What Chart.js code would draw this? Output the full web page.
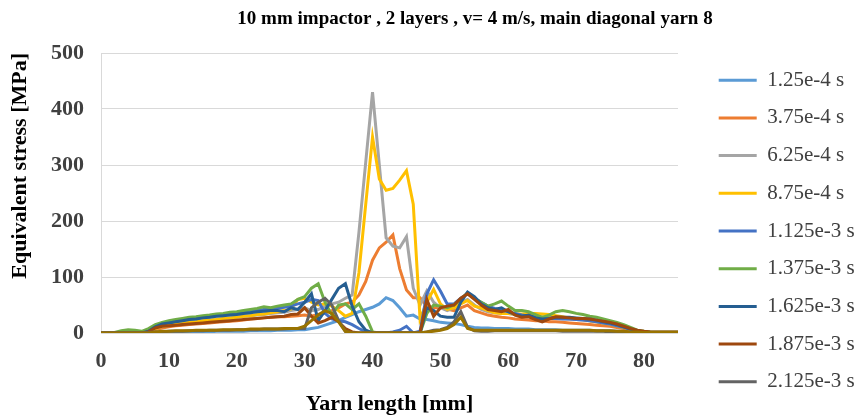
<!DOCTYPE html>
<html>
<head>
<meta charset="utf-8">
<script src="https://cdn.jsdelivr.net/npm/chart.js@4.4.1/dist/chart.umd.min.js"></script>
<style>
  body { margin: 0; background: #fff; }
  #wrap { width: 862px; height: 418px; position: relative; }
</style>
</head>
<body>
<div id="wrap"><canvas id="chart-stress"></canvas></div>
<script>
// yarn positions along the diagonal [mm]
const yarnLength = [
    0, 1, 2, 3, 4, 5, 6, 7, 8, 9, 10, 11, 12, 13, 14, 15, 16, 17, 18, 19,
    20, 21, 22, 23, 24, 25, 26, 27, 28, 29, 30, 31, 32, 33, 34, 35, 36, 37, 38, 39,
    40, 41, 42, 43, 44, 45, 46, 47, 48, 49, 50, 51, 52, 53, 54, 55, 56, 57, 58, 59,
    60, 61, 62, 63, 64, 65, 66, 67, 68, 69, 70, 71, 72, 73, 74, 75, 76, 77, 78, 79,
    80, 81, 82, 83, 84, 85
];

const timeLabels = ['1.25e-4 s', '3.75e-4 s', '6.25e-4 s', '8.75e-4 s', '1.125e-3 s',
    '1.375e-3 s', '1.625e-3 s', '1.875e-3 s', '2.125e-3 s', '2.375e-3 s'];

const lineColors = ['#5B9BD5', '#ED7D31', '#A5A5A5', '#FFC000', '#4472C4',
    '#70AD47', '#255E91', '#9E480E', '#636363', '#997300'];

// equivalent stress [MPa] per time step
const s125e4 = [
    0, 0, 0, 0, 0, 0, 0, 0, 0, 1, 1, 1, 1, 2, 2, 2, 2, 3, 3, 3,
    3, 3, 4, 4, 4, 4, 5, 5, 5, 6, 6, 8, 10, 14, 18, 22, 28, 33, 38, 42,
    46, 52, 63, 58, 45, 30, 32, 25, 24, 22, 19, 18, 17, 15, 12, 10, 9, 9, 8, 8,
    8, 7, 7, 7, 6, 6, 6, 6, 5, 5, 5, 5, 5, 4, 4, 4, 3, 3, 2, 2,
    1, 1, 1, 1, 1, 1
];
const s375e4 = [
    0, 0, 0, 0, 0, 0, 0, 2, 6, 9, 11, 13, 14, 15, 16, 17, 18, 19, 20, 21,
    22, 23, 25, 26, 27, 28, 29, 29, 30, 31, 32, 30, 33, 36, 40, 45, 52, 55, 68, 92,
    130, 152, 162, 175, 115, 77, 63, 63, 48, 45, 45, 43, 40, 45, 50, 40, 36, 32, 30, 28,
    27, 25, 24, 23, 22, 22, 20, 20, 19, 18, 17, 16, 15, 14, 13, 12, 10, 8, 5, 3,
    2, 1, 1, 1, 1, 1
];
const s625e4 = [
    0, 0, 0, 0, 0, 0, 0, 2, 8, 12, 14, 16, 18, 19, 20, 22, 23, 24, 26, 27,
    28, 30, 31, 32, 33, 35, 36, 37, 40, 42, 45, 40, 42, 48, 52, 55, 62, 68, 180, 305,
    430, 300, 170, 155, 152, 172, 80, 50, 75, 55, 45, 40, 45, 55, 60, 50, 42, 38, 36, 35,
    35, 33, 33, 32, 30, 29, 28, 27, 26, 25, 24, 23, 22, 20, 18, 16, 14, 11, 7, 4,
    2, 1, 1, 1, 1, 1
];
const s875e4 = [
    0, 0, 0, 0, 0, 0, 0, 2, 8, 12, 14, 16, 17, 19, 20, 22, 23, 24, 26, 27,
    28, 30, 31, 33, 34, 36, 38, 40, 43, 60, 62, 55, 50, 52, 48, 40, 30, 35, 108, 230,
    350, 275, 255, 258, 273, 290, 230, 25, 55, 78, 52, 42, 45, 52, 58, 48, 45, 40, 36, 35,
    35, 34, 34, 35, 35, 34, 33, 31, 29, 27, 26, 24, 22, 20, 18, 16, 13, 10, 6, 3,
    2, 1, 1, 1, 1, 1
];
const s1125e3 = [
    0, 0, 0, 0, 0, 0, 0, 3, 12, 17, 19, 21, 23, 25, 26, 28, 29, 31, 32, 34,
    35, 37, 38, 40, 42, 43, 44, 46, 48, 52, 55, 60, 58, 35, 25, 22, 20, 15, 8, 2,
    0, 0, 0, 2, 5, 12, 0, 3, 70, 95, 75, 52, 52, 62, 70, 62, 55, 48, 44, 41,
    38, 35, 32, 30, 28, 27, 26, 26, 25, 25, 24, 23, 22, 20, 18, 16, 13, 10, 6, 3,
    2, 1, 1, 1, 1, 1
];
const s1375e3 = [
    0, 0, 1, 4, 6, 5, 3, 8, 15, 19, 22, 24, 26, 28, 29, 31, 32, 34, 35, 37,
    38, 40, 42, 44, 47, 45, 48, 50, 52, 60, 65, 80, 88, 55, 32, 50, 52, 42, 52, 30,
    2, 0, 0, 0, 0, 0, 0, 0, 35, 50, 48, 45, 50, 60, 72, 62, 55, 48, 52, 57,
    48, 40, 40, 38, 33, 28, 32, 38, 40, 38, 35, 33, 30, 28, 25, 22, 19, 15, 10, 5,
    3, 2, 2, 2, 2, 2
];
const s1625e3 = [
    0, 0, 0, 0, 0, 0, 0, 3, 11, 16, 18, 20, 22, 24, 25, 27, 28, 30, 31, 32,
    33, 35, 36, 38, 39, 40, 40, 38, 45, 42, 55, 70, 22, 40, 60, 80, 88, 48, 20, 5,
    0, 0, 0, 0, 0, 0, 0, 0, 45, 40, 30, 28, 28, 55, 73, 65, 52, 45, 42, 45,
    38, 33, 30, 32, 27, 25, 26, 28, 28, 28, 27, 26, 25, 23, 20, 18, 15, 11, 7, 4,
    2, 1, 1, 1, 1, 1
];
const s1875e3 = [
    0, 0, 0, 0, 0, 0, 0, 2, 9, 12, 13, 14, 15, 16, 17, 18, 19, 20, 21, 22,
    23, 24, 25, 26, 27, 28, 29, 30, 33, 34, 45, 30, 18, 22, 28, 20, 8, 2, 0, 0,
    0, 0, 0, 0, 0, 0, 0, 0, 60, 30, 45, 48, 50, 62, 70, 60, 50, 42, 40, 38,
    42, 32, 28, 29, 24, 20, 25, 29, 28, 27, 26, 26, 25, 23, 21, 19, 16, 12, 8, 5,
    3, 2, 2, 2, 2, 2
];
const s2125e3 = [
    0, 0, 0, 0, 0, 0, 0, 1, 2, 2, 3, 3, 3, 4, 4, 4, 5, 5, 5, 5,
    6, 6, 6, 6, 7, 7, 7, 7, 8, 8, 8, 45, 55, 62, 50, 22, 3, 0, 0, 0,
    0, 0, 0, 0, 0, 0, 0, 0, 2, 5, 6, 10, 20, 38, 10, 4, 3, 3, 4, 4,
    4, 4, 4, 4, 4, 4, 4, 4, 3, 3, 3, 3, 3, 3, 3, 2, 2, 2, 1, 1,
    1, 1, 1, 1, 1, 1
];
const s2375e3 = [
    0, 0, 0, 0, 0, 0, 0, 0, 2, 3, 3, 4, 4, 4, 5, 5, 5, 5, 6, 6,
    6, 6, 7, 7, 7, 7, 7, 8, 8, 8, 12, 22, 32, 40, 35, 20, 3, 0, 0, 0,
    0, 0, 0, 0, 0, 0, 0, 0, 2, 3, 5, 8, 15, 28, 8, 5, 5, 5, 5, 5,
    5, 5, 5, 5, 5, 5, 5, 5, 5, 5, 5, 5, 5, 4, 4, 4, 3, 3, 2, 2,
    1, 1, 1, 1, 1, 1
];

const stressSeries = [s125e4, s375e4, s625e4, s875e4, s1125e3, s1375e3, s1625e3, s1875e3, s2125e3, s2375e3];

const yTicks = [0, 100, 200, 300, 400, 500];
const xTicks = [0, 10, 20, 30, 40, 50, 60, 70, 80];

const chartTitle = '10 mm impactor , 2 layers , v= 4 m/s, main diagonal yarn 8';

// title sits a bit right of center, so it is drawn by hand
const topTitle = {
    id: 'topTitle',
    afterDraw(chart) {
        const ctx = chart.ctx;
        ctx.save();
        ctx.font = 'bold 19px "Liberation Serif"';
        ctx.fillStyle = '#000';
        ctx.textAlign = 'center';
        ctx.textBaseline = 'middle';
        ctx.fillText(chartTitle, 475, 19);
        ctx.restore();
    }
};

let datasets = stressSeries.map((vals, i) => ({
    label: timeLabels[i],
    data: vals.map((v, k) => ({ x: yarnLength[k], y: v })),
    borderColor: lineColors[i],
    backgroundColor: lineColors[i],
    borderWidth: 3,
    pointRadius: 0,
    tension: 0,
    fill: false,
    order: stressSeries.length - 1 - i // later series on top
}));

let ctxStress = document.getElementById('chart-stress').getContext('2d');
let stressChart = new Chart(ctxStress, {
    type: 'line',
    data: { datasets: datasets },
    plugins: [topTitle],
    options: {
        responsive: true,
        maintainAspectRatio: false,
        animation: false,
        layout: { padding: { top: 53, left: 0, right: 0, bottom: 0 } },
        plugins: {
            title: { display: false },
            tooltip: { enabled: false },
            legend: {
                position: 'right',
                align: 'start',
                maxWidth: 160,
                labels: {
                    boxWidth: 38,
                    boxHeight: 0,
                    padding: 16.7,
                    color: '#404040',
                    font: { family: '"Liberation Serif"', size: 21 },
                    // last step has no room in the legend
                    filter: (item) => item.datasetIndex < 9,
                    sort: (a, b) => a.datasetIndex - b.datasetIndex
                }
            }
        },
        scales: {
            x: {
                type: 'linear',
                min: 0,
                max: 85,
                afterBuildTicks: (scale) => { scale.ticks = xTicks.map(v => ({ value: v })); },
                grid: { display: false, drawTicks: false },
                border: { display: false },
                ticks: {
                    padding: 14.8,
                    color: '#404040',
                    font: { family: '"Liberation Serif"', size: 22, weight: 'bold' }
                },
                title: {
                    display: true,
                    text: 'Yarn length [mm]',
                    color: '#000',
                    font: { family: '"Liberation Serif"', size: 22, weight: 'bold' },
                    padding: { top: 1.8, bottom: 0.8 }
                }
            },
            y: {
                min: 0,
                max: 500,
                afterBuildTicks: (scale) => { scale.ticks = yTicks.map(v => ({ value: v })); },
                grid: { color: '#D9D9D9', lineWidth: 1, drawTicks: false },
                border: { display: true, color: '#D9D9D9' },
                ticks: {
                    padding: 17,
                    color: '#404040',
                    font: { family: '"Liberation Serif"', size: 22, weight: 'bold' }
                },
                title: {
                    display: true,
                    text: 'Equivalent stress [MPa]',
                    align: 'end',
                    color: '#000',
                    font: { family: '"Liberation Serif"', size: 22, weight: 'bold' },
                    padding: { top: 7, bottom: 0.6 }
                }
            },
            // spacer between plot and legend
            y2: {
                position: 'right',
                display: true,
                grid: { display: false },
                border: { display: false },
                ticks: { display: false },
                afterFit: (scale) => { scale.width = 24; }
            }
        }
    }
});
</script>
</body>
</html>
